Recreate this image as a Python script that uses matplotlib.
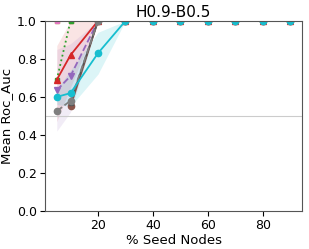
import matplotlib
matplotlib.use("Agg")
import matplotlib.pyplot as plt

seeds = [5, 10, 20, 30, 40, 50, 60, 70, 80, 90]

olive = [1.0] * 10
pink = [1.0] * 10
green = [0.69, 1.0, 1.0, 1.0, 1.0, 1.0, 1.0, 1.0, 1.0, 1.0]
red = [0.69, 0.82, 1.0, 1.0, 1.0, 1.0, 1.0, 1.0, 1.0, 1.0]
red_lo = [0.47, 0.65, 1.0, 1.0, 1.0, 1.0, 1.0, 1.0, 1.0, 1.0]
red_hi = [0.87, 1.0, 1.0, 1.0, 1.0, 1.0, 1.0, 1.0, 1.0, 1.0]
purple = [0.635, 0.71, 1.0, 1.0, 1.0, 1.0, 1.0, 1.0, 1.0, 1.0]
purple_lo = [0.42, 0.52, 1.0, 1.0, 1.0, 1.0, 1.0, 1.0, 1.0, 1.0]
purple_hi = [0.85, 0.88, 1.0, 1.0, 1.0, 1.0, 1.0, 1.0, 1.0, 1.0]
brown = [0.55, 0.55, 1.0, 1.0, 1.0, 1.0, 1.0, 1.0, 1.0, 1.0]
gray = [0.525, 0.58, 1.0, 1.0, 1.0, 1.0, 1.0, 1.0, 1.0, 1.0]
darkgray = [0.57, 0.57, 1.0, 1.0, 1.0, 1.0, 1.0, 1.0, 1.0, 1.0]
cyan = [0.60, 0.62, 0.83, 1.0, 1.0, 1.0, 1.0, 1.0, 1.0, 1.0]
cyan_lo = [0.56, 0.55, 0.72, 1.0, 1.0, 1.0, 1.0, 1.0, 1.0, 1.0]
cyan_hi = [0.64, 0.74, 0.94, 1.0, 1.0, 1.0, 1.0, 1.0, 1.0, 1.0]

fig, ax = plt.subplots(figsize=(3.09, 2.49), dpi=100)
fig.subplots_adjust(left=0.146, right=0.977, bottom=0.153, top=0.916)

ax.axhline(0.5, color="#cccccc", linewidth=0.8)

ax.fill_between(seeds, red_lo, red_hi, color="tab:red", alpha=0.12, linewidth=0)
ax.fill_between(seeds, purple_lo, purple_hi, color="tab:purple", alpha=0.12, linewidth=0)
ax.fill_between(seeds, cyan_lo, cyan_hi, color="tab:cyan", alpha=0.15, linewidth=0)

ms = 4.5
lw = 1.3
ax.plot(seeds, olive, color="tab:olive", marker="s", markersize=3.5, linewidth=lw)
ax.plot(seeds, pink, color="tab:pink", marker="s", markersize=3.5, linewidth=lw)
ax.plot(seeds, green, color="tab:green", linestyle=":", marker="s", markersize=3.5, linewidth=lw)
ax.plot(seeds, red, color="tab:red", marker="^", markersize=ms, linewidth=lw)
ax.plot(seeds, purple, color="tab:purple", linestyle="--", marker="v", markersize=ms, linewidth=lw)
ax.plot(seeds[1:], brown[1:], color="tab:brown", marker="o", markersize=ms, linewidth=lw)
ax.plot(seeds[1:], darkgray[1:], color="#555555", marker="s", markersize=3.5, linewidth=lw)
ax.plot(seeds, gray, color="tab:gray", linestyle="--", marker="o", markersize=ms, linewidth=lw)
ax.plot(seeds, cyan, color="tab:cyan", marker="o", markersize=ms, linewidth=lw)

for side in ["left", "bottom", "right", "top"]:
    ax.spines[side].set_color("#555555")

ax.set_ylim(0, 1.0)
ax.set_xticks([20, 40, 60, 80])
ax.set_yticks([0.0, 0.2, 0.4, 0.6, 0.8, 1.0])
ax.tick_params(labelsize=9, pad=2.5)
ax.set_xlabel("% Seed Nodes", fontsize=9.5, labelpad=1)
ax.set_ylabel("Mean Roc_Auc", fontsize=9.5, labelpad=3)
ax.set_title("H0.9-B0.5", fontsize=11, pad=3)

fig.savefig("out.png", dpi=100)
